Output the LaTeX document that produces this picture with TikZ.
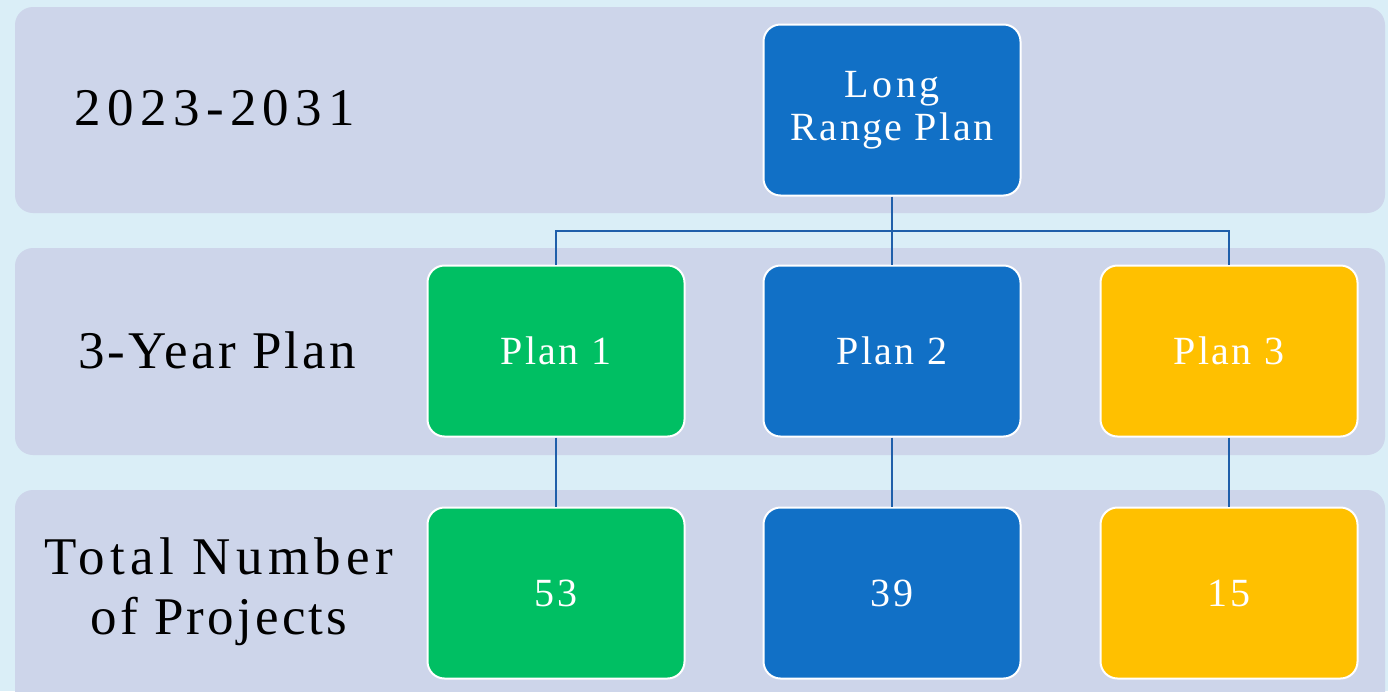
\documentclass[tikz,border=0pt]{standalone}
\usepackage{fontspec}
\setmainfont{Liberation Serif}[LetterSpace=6]
\usetikzlibrary{positioning}
\definecolor{pagebg}{HTML}{DAEEF7}
\definecolor{bandbg}{HTML}{CDD5EA}
\definecolor{planblue}{HTML}{1170C6}
\definecolor{plangreen}{HTML}{00BF63}
\definecolor{planyellow}{HTML}{FFC000}
\definecolor{linkblue}{HTML}{1F5FAA}
\tikzset{
    band/.style={
        fill=bandbg,
        rounded corners=18pt
    },
    rowlabel/.style={
        font=\fontsize{53}{60}\selectfont,
        align=center,
        text=black
    },
    chartbox/.style={
        draw=white,
        line width=2pt,
        rounded corners=17pt,
        minimum width=257pt,
        minimum height=171pt,
        align=center,
        text=white,
        font=\fontsize{40}{43}\selectfont
    },
    link/.style={
        draw=linkblue,
        line width=2.4pt
    }
}

\begin{document}
\begin{tikzpicture}[x=1pt,y=-1pt]
                \useasboundingbox (0,0) rectangle (1388,691);
                \clip (0,0) rectangle (1388,691);
                \fill[pagebg] (0,0) rectangle (1388,691);
                % row bands
                \fill[band] (15,7) rectangle (1385,213);
                \fill[band] (15,248) rectangle (1385,455);
                \fill[band] (15,490) rectangle (1385,715);
                % row labels
                \node[rowlabel] (years) at (215,108) {\addfontfeature{LetterSpace=12}2023-2031};
                \node[rowlabel] (threeyear) at (217,350) {3-Year Plan};
                \node[rowlabel] (total) at (219,592) {\addfontfeature{LetterSpace=10}Total Number\\of Projects};
                % boxes
                \node[chartbox, fill=planblue] (longrange) at (892,110) {\addfontfeature{LetterSpace=9}Long\\Range Plan};
                \node[chartbox, fill=plangreen] (plan1) at (556,351) {Plan 1};
                \node[chartbox, fill=planblue] (plan2) at (892,351) {Plan 2};
                \node[chartbox, fill=planyellow] (plan3) at (1229,351) {Plan 3};
                \node[chartbox, fill=plangreen] (count1) at (556,593) {53};
                \node[chartbox, fill=planblue] (count2) at (892,593) {39};
                \node[chartbox, fill=planyellow] (count3) at (1229,593) {15};
                % connectors
                \coordinate (fork) at (892,231);
                \draw[link] (longrange.south) -- (fork);
                \draw[link] (fork) -| (plan1.north);
                \draw[link] (fork) -| (plan3.north);
                \draw[link] (fork) -- (plan2.north);
                \draw[link] (plan1.south) -- (count1.north);
                \draw[link] (plan2.south) -- (count2.north);
                \draw[link] (plan3.south) -- (count3.north);
            \end{tikzpicture}
\end{document}
